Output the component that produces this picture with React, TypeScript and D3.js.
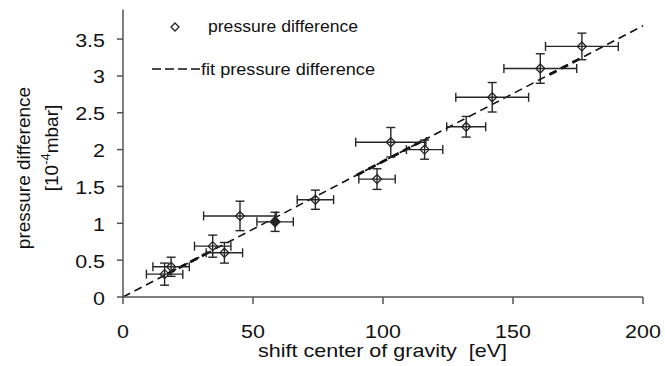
import React from "react";
import * as d3 from "d3";

const xValues = [16, 18.5, 34.5, 39, 45, 58.5, 74, 97.7, 103, 116, 132, 142, 160.5, 176.5];
const yValues = [0.31, 0.41, 0.69, 0.6, 1.1, 1.02, 1.32, 1.6, 2.1, 2.0, 2.31, 2.71, 3.1, 3.4];
const xErrors = [7, 7, 7, 7, 14, 7, 7, 7, 13.5, 7, 7.5, 14, 14, 14];
const yErrors = [0.15, 0.13, 0.15, 0.14, 0.2, 0.13, 0.13, 0.14, 0.2, 0.13, 0.14, 0.2, 0.2, 0.18];
const fitSlope = 0.0184;
const fitOverlapRanges: [number, number][] = [[17, 33], [90, 117], [164, 177]];
const xTicks = [0, 50, 100, 150, 200];
const yTicks = [0, 0.5, 1, 1.5, 2, 2.5, 3, 3.5];
const legendLabels = ["pressure difference", "fit pressure difference"];

const W = 665;
const H = 366;
const FONT = "'Liberation Sans', Arial, sans-serif";
const SX = 1.13;

export default function App() {
  const x = d3.scaleLinear().domain([0, 200]).range([123, 643]);
  const y = d3.scaleLinear().domain([0, 3.9]).range([297, 297 - 3.9 * 73.7]);
  const line = d3
    .line<number>()
    .x((d) => x(d))
    .y((d) => y(fitSlope * d));
  const ink = "#262626";
  const axisCol = "#555";
  const cap = 4.5;
  const diamond = (cx: number, cy: number, r: number) =>
    `M${cx},${cy - r}L${cx + r},${cy}L${cx},${cy + r}L${cx - r},${cy}Z`;

  return (
    <svg
      width={W}
      height={H}
      style={{ position: "fixed", left: 0, top: 0, background: "#fff" }}
      fontFamily={FONT}
    >
      {/* fit line */}
      <path d={line([0, 200]) || ""} fill="none" stroke="#111" strokeWidth={1.6} strokeDasharray="8,5" />
      {fitOverlapRanges.map((r, i) => (
        <path key={i} d={line(r) || ""} fill="none" stroke="#111" strokeWidth={2.8} strokeDasharray="8,5" />
      ))}

      {/* error bars and markers */}
      {xValues.map((xv, i) => {
        const cx = x(xv);
        const cy = y(yValues[i]);
        const x0 = x(xv - xErrors[i]);
        const x1 = x(xv + xErrors[i]);
        const y0 = y(yValues[i] - yErrors[i]);
        const y1 = y(yValues[i] + yErrors[i]);
        return (
          <g key={i} stroke={ink} strokeWidth={1.4} fill="none">
            <line x1={x0} x2={x1} y1={cy} y2={cy} />
            <line x1={x0} x2={x0} y1={cy - cap} y2={cy + cap} />
            <line x1={x1} x2={x1} y1={cy - cap} y2={cy + cap} />
            <line x1={cx} x2={cx} y1={y0} y2={y1} />
            <line x1={cx - cap} x2={cx + cap} y1={y0} y2={y0} />
            <line x1={cx - cap} x2={cx + cap} y1={y1} y2={y1} />
            <path d={diamond(cx, cy, 4.5)} fill={i === 5 ? ink : "none"} strokeWidth={i === 5 ? 2 : 1.3} />
          </g>
        );
      })}

      {/* axes */}
      <line x1={x(0)} x2={x(200)} y1={y(0)} y2={y(0)} stroke={axisCol} strokeWidth={1.5} />
      <line x1={x(0)} x2={x(0)} y1={y(0)} y2={y(3.9)} stroke={axisCol} strokeWidth={1.5} />
      {xTicks.map((t) => (
        <g key={t}>
          <line x1={x(t)} x2={x(t)} y1={y(0)} y2={y(0) + 7} stroke={axisCol} strokeWidth={1.5} />
          <text
            transform={`translate(${x(t)},338) scale(${SX},1)`}
            fontSize={19}
            textAnchor="middle"
            fill="#111"
          >
            {t}
          </text>
        </g>
      ))}
      {yTicks.map((t) => (
        <g key={t}>
          <line x1={x(0) - 6} x2={x(0)} y1={y(t)} y2={y(t)} stroke={axisCol} strokeWidth={1.5} />
          <text
            transform={`translate(105,${y(t) + 7.5}) scale(${SX},1)`}
            fontSize={19}
            textAnchor="end"
            fill="#111"
          >
            {t}
          </text>
        </g>
      ))}

      {/* axis titles */}
      <text
        x={258}
        y={357}
        fontSize={19}
        fill="#111"
        textLength={249}
        lengthAdjust="spacingAndGlyphs"
        style={{ whiteSpace: "pre" }}
      >
        {"shift center of gravity  [eV]"}
      </text>
      <text transform="translate(30,168) rotate(-90)" fontSize={19} textAnchor="middle" fill="#111">
        pressure difference
      </text>
      <text transform="translate(58,148) rotate(-90)" fontSize={19} textAnchor="middle" fill="#111">
        [10
        <tspan fontSize={13} dy={-8}>-4</tspan>
        <tspan dy={8}>mbar]</tspan>
      </text>

      {/* legend */}
      <path d={diamond(175, 27, 4)} fill="none" stroke={ink} strokeWidth={1.3} />
      <text x={208} y={32} fontSize={16} fill="#111" textLength={150} lengthAdjust="spacingAndGlyphs">
        {legendLabels[0]}
      </text>
      <line x1={152} x2={203} y1={69} y2={69} stroke="#111" strokeWidth={1.6} strokeDasharray="9,4" />
      <text x={201} y={75} fontSize={16} fill="#111" textLength={174} lengthAdjust="spacingAndGlyphs">
        {legendLabels[1]}
      </text>
    </svg>
  );
}
